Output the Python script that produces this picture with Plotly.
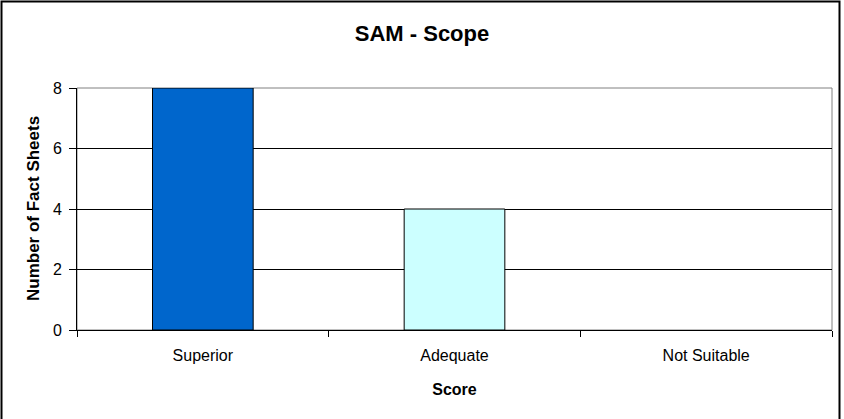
import plotly.graph_objects as go

categories = ["Superior", "Adequate", "Not Suitable"]
values = [8, 4, 0]
colors = ["#0066CC", "#CCFFFF", "#CCFFFF"]
y_ticks = [0, 2, 4, 6, 8]

L, R, T, B = 77, 832, 88, 330
W, H = 844, 419
pw, ph = R - L, B - T

fig = go.Figure(go.Bar(
    x=categories, y=values,
    marker=dict(color=colors, line=dict(color="black", width=[1 if v else 0 for v in values])),
    width=0.4,
))

fig.update_layout(
    width=W, height=H,
    margin=dict(l=L, r=W - R, t=T, b=H - B),
    paper_bgcolor="white", plot_bgcolor="white",
    font=dict(family="Arial, Liberation Sans, sans-serif", color="black", size=16),
    title=dict(text="<b>SAM - Scope</b>", x=0.5, xanchor="center", y=1 - 33/H, yanchor="middle",
               font=dict(size=22)),
    showlegend=False,
    xaxis=dict(
        title=dict(text="<b>Score</b>", font=dict(size=16), standoff=20),
        showline=True, linecolor="black", linewidth=1,
        ticks="outside", ticklen=6, tickcolor="black", tickson="boundaries",
        ticklabelstandoff=11,
        showgrid=False, fixedrange=True,
    ),
    yaxis=dict(
        range=[0, 8], tickvals=y_ticks,
        showline=True, linecolor="black", linewidth=1,
        ticks="outside", ticklen=7, tickcolor="black",
        ticklabelstandoff=4,
        showgrid=True, gridcolor="black", gridwidth=1, zeroline=False,
        fixedrange=True,
    ),
    annotations=[
        dict(text="<b>Number of Fact Sheets</b>", xref="paper", yref="paper",
             x=(33 - L)/pw, y=0.5, xanchor="center", yanchor="middle",
             textangle=-90, showarrow=False, font=dict(size=17)),
    ],
    shapes=[
        dict(type="rect", xref="paper", yref="paper", x0=0, x1=1, y0=0, y1=1,
             line=dict(color="#808080", width=1), layer="below"),
        dict(type="rect", xref="paper", yref="paper",
             x0=(1.5 - L)/pw, x1=(839.5 - L)/pw, y0=-(430 - B)/ph, y1=1 + (T - 1.5)/ph,
             line=dict(color="black", width=2)),
    ],
)

fig.write_html("out.html", config={"displayModeBar": False},
               post_script="document.body.style.margin='0';document.body.style.padding='0';")
